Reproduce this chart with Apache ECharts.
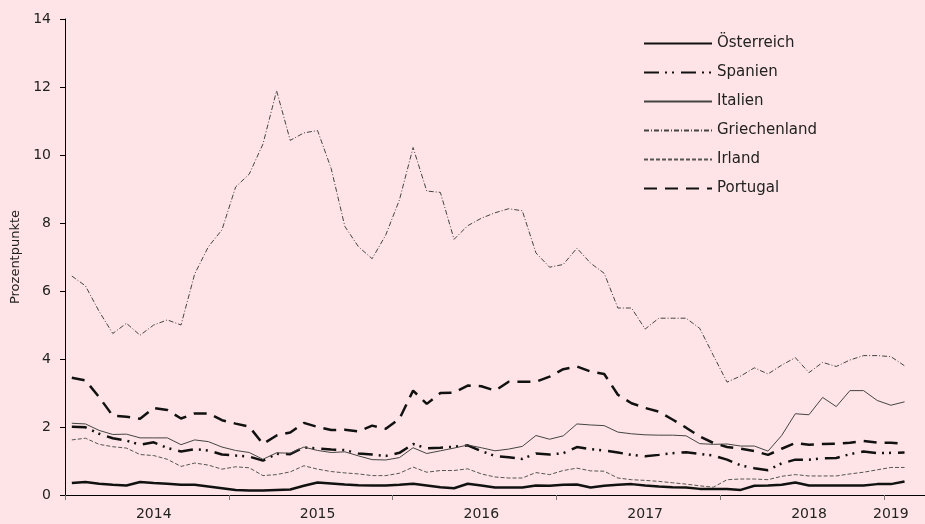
<!DOCTYPE html>
<html>
<head>
<meta charset="utf-8">
<title>Spreads</title>
<script src="https://cdn.jsdelivr.net/npm/echarts@6/dist/echarts.min.js"></script>
<style>
  html, body { margin: 0; padding: 0; background: #fee4e6; }
  #chart { width: 925px; height: 524px; }
</style>
</head>
<body>
<div id="chart"></div>
<script>
// monthly values, Jan 2014 .. Feb 2019 (index 0 = mid Jan 2014)
const oesterreich = [0.35,0.38,0.33,0.30,0.28,0.38,0.35,0.33,0.30,0.30,0.25,0.20,0.15,0.13,0.13,0.15,0.16,0.27,0.37,0.34,0.31,0.29,0.28,0.28,0.30,0.33,0.28,0.23,0.20,0.33,0.28,0.22,0.22,0.22,0.28,0.27,0.30,0.31,0.22,0.27,0.30,0.32,0.28,0.25,0.23,0.22,0.18,0.18,0.18,0.15,0.27,0.28,0.30,0.37,0.28,0.28,0.28,0.28,0.28,0.32,0.32,0.40];
const spanien = [2.01,1.99,1.80,1.67,1.60,1.48,1.55,1.38,1.28,1.35,1.31,1.19,1.16,1.13,1.01,1.21,1.20,1.40,1.37,1.34,1.32,1.22,1.19,1.15,1.24,1.50,1.37,1.39,1.42,1.46,1.29,1.15,1.11,1.06,1.22,1.19,1.23,1.41,1.35,1.31,1.25,1.18,1.14,1.18,1.23,1.26,1.21,1.16,1.04,0.87,0.79,0.73,0.93,1.04,1.04,1.08,1.09,1.20,1.28,1.23,1.24,1.25];
const italien = [2.11,2.09,1.90,1.78,1.79,1.68,1.68,1.68,1.48,1.62,1.57,1.41,1.31,1.25,1.05,1.24,1.23,1.41,1.31,1.25,1.27,1.15,1.04,1.03,1.10,1.39,1.22,1.30,1.38,1.47,1.39,1.30,1.35,1.43,1.75,1.64,1.74,2.09,2.06,2.04,1.85,1.80,1.77,1.76,1.76,1.74,1.51,1.49,1.50,1.44,1.44,1.29,1.75,2.39,2.36,2.87,2.60,3.07,3.07,2.78,2.64,2.74];
const griechenland = [6.44,6.15,5.40,4.75,5.05,4.70,5.00,5.15,5.00,6.50,7.30,7.80,9.06,9.44,10.32,11.89,10.43,10.65,10.72,9.60,7.90,7.30,6.95,7.65,8.68,10.22,8.94,8.90,7.52,7.92,8.14,8.30,8.42,8.36,7.12,6.70,6.78,7.26,6.82,6.52,5.50,5.50,4.88,5.20,5.20,5.20,4.90,4.10,3.32,3.50,3.74,3.56,3.82,4.04,3.60,3.90,3.78,3.97,4.10,4.10,4.07,3.80];
const irland = [1.62,1.67,1.49,1.42,1.38,1.19,1.16,1.05,0.84,0.94,0.88,0.76,0.83,0.80,0.57,0.60,0.68,0.86,0.76,0.69,0.65,0.62,0.57,0.57,0.64,0.82,0.67,0.72,0.72,0.77,0.62,0.53,0.50,0.50,0.66,0.60,0.72,0.79,0.71,0.70,0.50,0.45,0.43,0.40,0.36,0.32,0.27,0.23,0.45,0.47,0.47,0.45,0.55,0.60,0.56,0.56,0.56,0.62,0.67,0.74,0.81,0.81];
const portugal = [3.45,3.37,2.88,2.33,2.30,2.24,2.56,2.50,2.25,2.40,2.40,2.20,2.10,2.01,1.50,1.75,1.84,2.12,2.00,1.91,1.92,1.87,2.04,1.95,2.24,3.07,2.68,3.00,3.01,3.22,3.20,3.07,3.33,3.33,3.33,3.48,3.70,3.78,3.63,3.56,2.95,2.70,2.56,2.45,2.22,1.98,1.72,1.53,1.41,1.36,1.29,1.18,1.36,1.53,1.48,1.50,1.51,1.54,1.59,1.54,1.54,1.50];

// x axis: year boundaries and label positions (in months from Jan 2014)
const yearTicks = [0, 12, 24, 36, 48, 60];
const yearLabelPos = [6.5, 18.5, 30.5, 42.5, 54.5, 60.5];
const yearLabels = ['2014', '2015', '2016', '2017', '2018', '2019'];
const yTicks = [0, 2, 4, 6, 8, 10, 12, 14];

const FONT = '"DejaVu Sans", sans-serif';

function toPoints(arr) {
  return arr.map((v, i) => [i + 0.5, v]);
}

const chart = echarts.init(document.getElementById('chart'));

const seriesDefs = [
  { name: 'Österreich', data: oesterreich, width: 2.5, color: '#111', type: 'solid' },
  { name: 'Spanien', data: spanien, width: 2.5, color: '#111', type: [15, 6, 2, 5, 2, 7] },
  { name: 'Italien', data: italien, width: 1, color: '#444', type: 'solid' },
  { name: 'Griechenland', data: griechenland, width: 1, color: '#444', type: [5, 2, 1, 2] },
  { name: 'Irland', data: irland, width: 1, color: '#555', type: [4, 2] },
  { name: 'Portugal', data: portugal, width: 2.5, color: '#111', type: [13, 8] }
];

const option = {
  backgroundColor: '#fee4e6',
  animation: false,
  textStyle: { fontFamily: FONT },
  grid: { left: 65, right: 0, top: 19, bottom: 29 },
  legend: {
    orient: 'vertical',
    left: 643,
    top: 36,
    padding: 0,
    itemWidth: 68,
    itemHeight: 14,
    itemGap: 14,
    itemStyle: { opacity: 0 },
    textStyle: { fontSize: 15, color: '#222', fontFamily: FONT },
    data: seriesDefs.map(s => s.name)
  },
  xAxis: {
    type: 'value',
    min: 0,
    max: 63,
    interval: 12,
    splitLine: { show: false },
    axisLine: { lineStyle: { color: '#000', width: 1 } },
    axisTick: {
      show: true,
      customValues: yearTicks,
      length: 5,
      lineStyle: { color: '#777' }
    },
    axisLabel: {
      customValues: yearLabelPos,
      margin: 12,
      fontSize: 14,
      color: '#222',
      fontFamily: FONT,
      formatter: v => yearLabels[yearLabelPos.indexOf(v)]
    }
  },
  yAxis: {
    type: 'value',
    min: 0,
    max: 14,
    interval: 2,
    name: 'Prozentpunkte',
    nameLocation: 'middle',
    nameRotate: 90,
    nameGap: 30,
    nameTextStyle: { fontSize: 13, color: '#222', fontFamily: FONT },
    splitLine: { show: false },
    axisLine: { show: true, lineStyle: { color: '#000', width: 1 } },
    axisTick: { show: true, length: 5, lineStyle: { color: '#000' } },
    axisLabel: {
      fontSize: 14,
      color: '#222',
      margin: 14,
      fontFamily: FONT,
      formatter: v => (yTicks.indexOf(v) >= 0 ? String(v) : '')
    }
  },
  series: seriesDefs.map(s => ({
    name: s.name,
    type: 'line',
    symbol: 'none',
    data: toPoints(s.data),
    color: s.color,
    lineStyle: { color: s.color, width: s.width, type: s.type },
    itemStyle: { color: s.color }
  }))
};

chart.setOption(option);
</script>
</body>
</html>
